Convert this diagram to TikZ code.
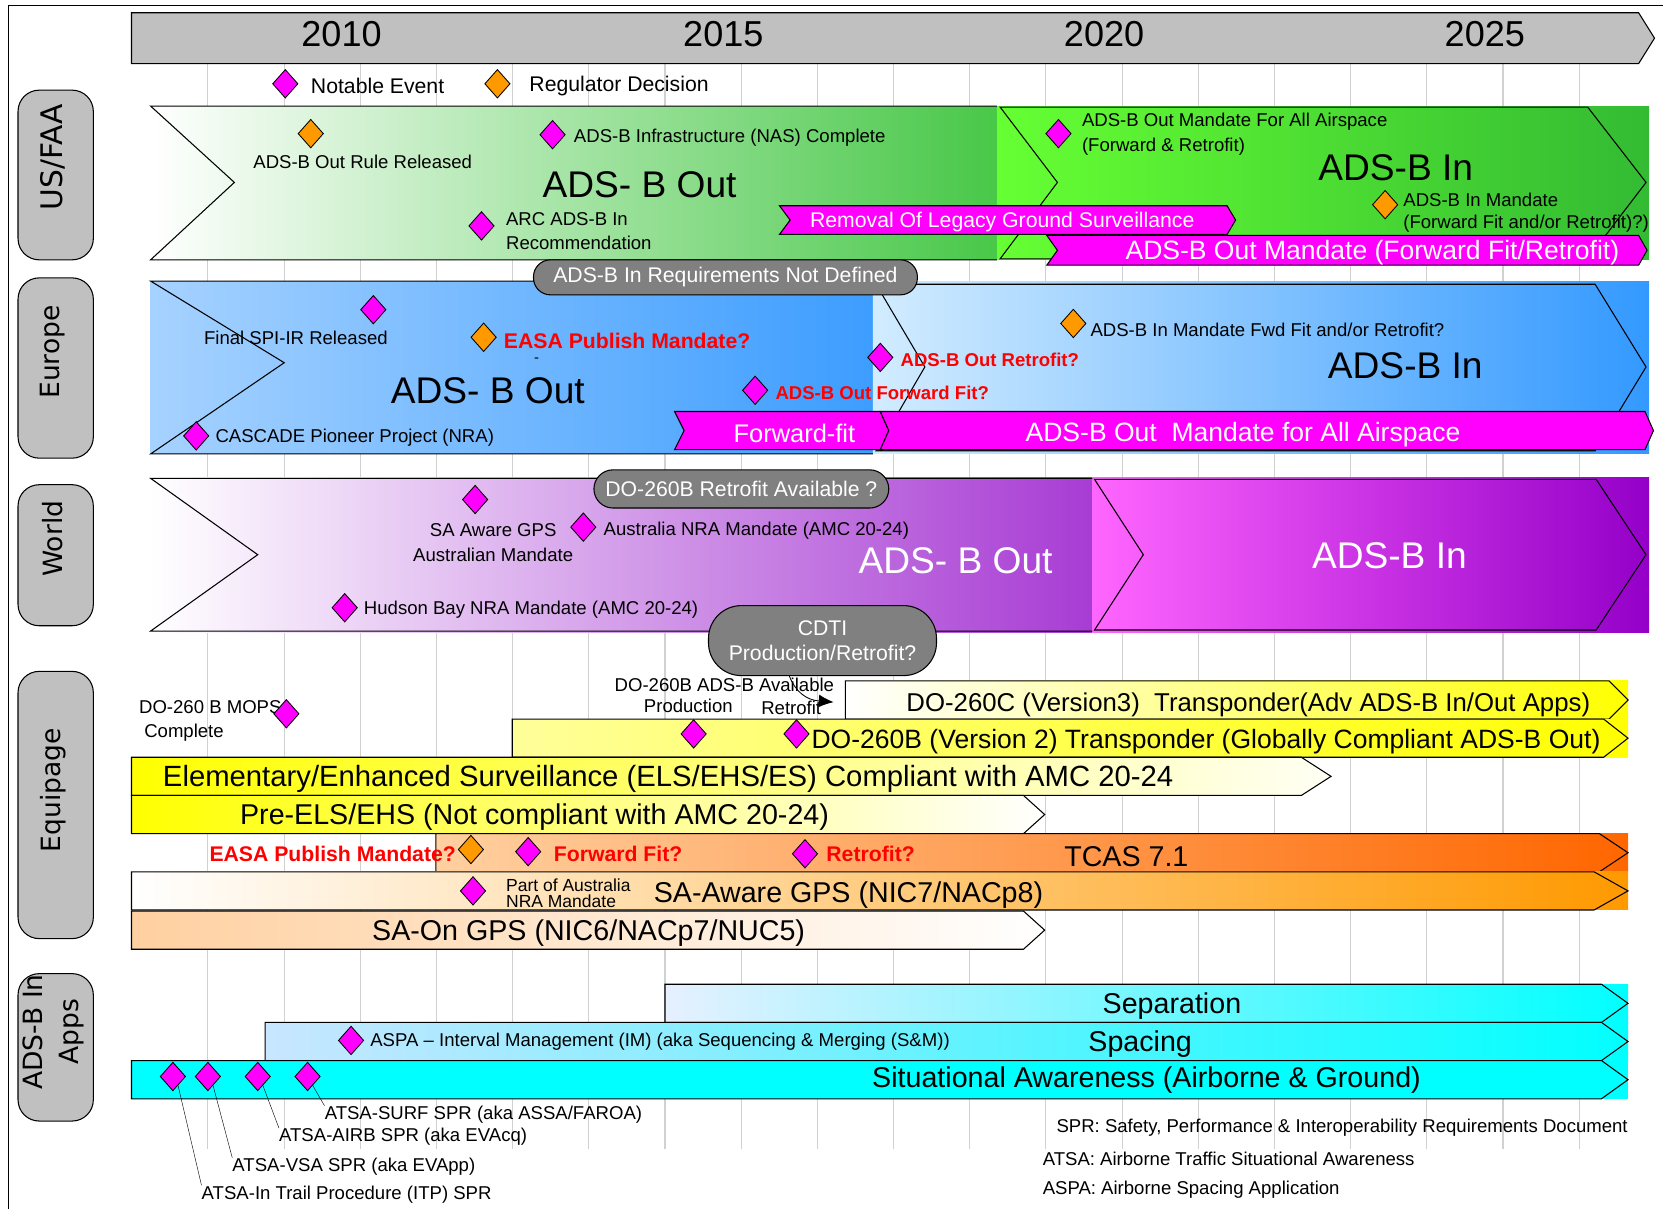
\documentclass[tikz,border=0pt]{standalone}
\usepackage{fontspec}
\setmainfont{Liberation Sans}
\newfontfamily\catfont{DejaVu Sans}
\usetikzlibrary{shapes.geometric, arrows.meta}
\definecolor{hdrgray}{HTML}{C0C0C0}
\definecolor{bubblegray}{HTML}{808080}
\definecolor{evmag}{HTML}{FF00FF}
\definecolor{regorange}{HTML}{FF9900}
\definecolor{usout}{HTML}{48C848}
\definecolor{usinL}{HTML}{66FF33}
\definecolor{usinR}{HTML}{33BB33}
\definecolor{euoutL}{HTML}{A6D2FF}
\definecolor{euoutR}{HTML}{3D9DFF}
\definecolor{euinL}{HTML}{D2ECFF}
\definecolor{euinR}{HTML}{3399FF}
\definecolor{woutR}{HTML}{A83CD4}
\definecolor{winL}{HTML}{FF66FF}
\definecolor{winR}{HTML}{9400C8}
\definecolor{ylw}{HTML}{FFFF00}
\definecolor{ylwpale}{HTML}{FFFF99}
\definecolor{tcasL}{HTML}{FFD0A0}
\definecolor{tcasR}{HTML}{FF6600}
\definecolor{gpsR}{HTML}{FF9900}
\definecolor{sepL}{HTML}{E6F0FF}
\definecolor{spcL}{HTML}{C8E6FF}
\definecolor{cyanapp}{HTML}{00FFFF}
\tikzset{style={line join=miter}}

\begin{document}
\begin{tikzpicture}[
    x=1pt, y=-1pt,
    rim/.style={draw=black, line width=1pt},
    gridline/.style={draw=black!18, line width=1pt},
    banner/.style={fill=evmag, draw=black, line width=1pt},
    catbox/.style={draw, fill=hdrgray, rounded corners=20pt, line width=1pt,
        minimum width=71pt, inner sep=0pt},
    catlbl/.style={rotate=90, font=\catfont\fontsize{25}{34}\selectfont,
        inner sep=0pt, align=center},
    note/.style={diamond, draw, fill=evmag, minimum width=24pt,
        minimum height=27pt, inner sep=0pt, line width=0.8pt},
    ruling/.style={note, fill=regorange},
    lbl/.style={font=\fontsize{17.5}{23}\selectfont, inner sep=0pt},
    keylbl/.style={font=\fontsize{20}{22}\selectfont, inner sep=0pt, anchor=west},
    hot/.style={font=\bfseries\fontsize{17.5}{19}\selectfont, text=red, inner sep=0pt},
    hotbig/.style={hot, font=\bfseries\fontsize{20}{22}\selectfont},
    phase/.style={font=\fontsize{35}{38}\selectfont, inner sep=0pt},
    yearlbl/.style={font=\fontsize{34}{36}\selectfont, inner sep=0pt},
    bartext/.style={font=\fontsize{27}{30}\selectfont, inner sep=0pt, yshift=-2.5pt},
    bubble/.style={draw, fill=bubblegray, text=white, line width=1pt,
        font=\fontsize{20}{24}\selectfont, align=center, inner sep=0pt},
  ]
\useasboundingbox (0,0) rectangle (1568,1140);
\fill[white] (0,0) rectangle (1568,1140);
\draw[line width=1pt] (8,1140) -- (8,5) -- (1568,5);

% grid of years
\foreach \k in {0,...,18}
  \draw[gridline] ({196+71.83*\k},60) -- ({196+71.83*\k},1083);

\filldraw[fill=hdrgray, draw=black, line width=1pt]
  (124,12) -- (1545,12) -- (1560,36) -- (1545,60) -- (124,60) -- cycle;
\foreach \yr/\px in {2010/322, 2015/682, 2020/1041, 2025/1400}
  \node[yearlbl] (y\yr) at (\px,32) {\yr};

\node[note] (keyev) at (269,79) {};
\node[keylbl] (keyevt) at (293,81) {Notable Event};
\node[ruling] (keyreg) at (469,79) {};
\node[keylbl] (keyregt) at (499,81) {Regulator Decision};

\node[catbox, minimum height=160pt] (cus) at (52.5,165) {};
\node[catlbl, font=\catfont\fontsize{28}{30}\selectfont] (cust) at (50,148) {US/FAA};
\node[catbox, minimum height=170pt] (ceu) at (52.5,347) {};
\node[catlbl] (ceut) at (50,332) {Europe};
\node[catbox, minimum height=133pt] (cwd) at (52.5,523.5) {};
\node[catlbl] (cwdt) at (50,508) {World};
\node[catbox, minimum height=252pt] (ceq) at (52.5,759) {};
\node[catlbl] (ceqt) at (50,745) {Equipage};
\node[catbox, minimum height=139pt] (cap) at (52.5,987.5) {};
\node[catlbl] (capt) at (50,973) {ADS-B In\\Apps};

% US/FAA
\shade[left color=white, right color=usout] (142,100) rectangle (940,245);
\shade[left color=usinL, right color=usinR] (940,100) rectangle (1555,245);
\draw[rim] (940,100) -- (142,100) -- (221,172) -- (142,245) -- (940,245);
\draw[rim] (943,101) -- (1497,101) -- (1552,172) -- (1497,244) -- (943,244) -- (997,172) -- cycle;
\filldraw[banner] (735,194) -- (1157,194) -- (1165,207.5) -- (1157,221) -- (735,221) -- (745,207.5) -- cycle;
\filldraw[banner] (987,222) -- (1545,222) -- (1553,236) -- (1545,250) -- (987,250) -- (997,236) -- cycle;

\node[ruling] (usrule) at (293,126) {};
\node[lbl] (usrulet) at (342,153) {ADS-B Out Rule Released};
\node[note] (usnas) at (521,127) {};
\node[lbl, anchor=west] (usnast) at (541,130) {ADS-B Infrastructure (NAS) Complete};
\node[phase] (usout) at (603,174) {ADS- B Out};
\node[note] (usarc) at (454,213) {};
\node[lbl, anchor=west, align=left] (usarct) at (477,218) {ARC ADS-B In\\Recommendation};
\node[note] (usall) at (998,126) {};
\node[lbl, anchor=west, align=left] (usallt) at (1020,126.5) {ADS-B Out Mandate For All Airspace\\(Forward \& Retrofit)};
\node[phase] (usin) at (1316,158) {ADS-B In};
\node[ruling] (usinm) at (1306,193) {};
\node[lbl, anchor=west, align=left, font=\fontsize{17.5}{21}\selectfont] (usinmt) at (1323,200.5) {ADS-B In Mandate\\(Forward Fit and/or Retrofit)?)};
\node[font=\fontsize{20}{22}\selectfont, text=white, inner sep=0pt] (uslegacy) at (945,209) {Removal Of Legacy Ground Surveillance};
\node[font=\fontsize{25}{27}\selectfont, text=white, inner sep=0pt] (usmand) at (1294,238.5) {ADS-B Out Mandate (Forward Fit/Retrofit)};

% Europe
\shade[left color=euoutL, right color=euoutR] (142,265) rectangle (823,428);
\shade[left color=euinL, right color=euinR] (823,265) rectangle (1555,428);
\draw[rim] (823,265) -- (142,265) -- (268,342) -- (142,428) -- (823,428);
\draw[rim] (826,268) -- (1504,268) -- (1552,346) -- (1504,425) -- (826,425) -- (872,346) -- cycle;
\filldraw[banner] (636,388) -- (830,388) -- (838,406) -- (830,424) -- (636,424) -- (645,406) -- cycle;
\filldraw[banner] (830,388) -- (1551,388) -- (1559,406) -- (1551,424) -- (830,424) -- (838,406) -- cycle;

\node[note] (euspi) at (352,292) {};
\node[lbl] (euspit) at (279,319) {Final SPI-IR Released};
\node[ruling] (eueasa) at (456,318) {};
\node[hotbig, anchor=west] (eueasat) at (475,321) {EASA Publish Mandate?};
\node[lbl, font=\fontsize{14}{15}\selectfont] (eudash) at (506,340) {-};
\node[phase] (euout) at (460,368) {ADS- B Out};
\node[note] (eucas) at (185,411) {};
\node[lbl, anchor=west] (eucast) at (203,413) {CASCADE Pioneer Project (NRA)};
\node[note] (eufwd) at (712,368) {};
\node[hot, anchor=west] (eufwdt) at (731,370) {ADS-B Out Forward Fit?};
\node[note] (euret) at (830,337) {};
\node[hot, anchor=west] (euprett) at (849,339) {ADS-B Out Retrofit?};
\node[ruling] (euinm) at (1012,305) {};
\node[lbl, anchor=west] (euinmt) at (1028,311) {ADS-B In Mandate Fwd Fit and/or Retrofit?};
\node[phase] (euin) at (1325,345) {ADS-B In};
\node[font=\fontsize{24}{26}\selectfont, text=white, inner sep=0pt] (euff) at (749,408.5) {Forward-fit};
\node[font=\fontsize{25}{27}\selectfont, text=white, inner sep=0pt] (eumand) at (1172,409.5) {ADS-B Out\ \ Mandate for All Airspace};

% World
\shade[left color=white, right color=woutR] (142,450) rectangle (1030,596);
\shade[left color=winL, right color=winR] (1030,450) rectangle (1555,596);
\draw[rim] (1030,451) -- (142,451) -- (243,523) -- (142,595) -- (1030,595);
\draw[rim] (1032,452) -- (1505,452) -- (1552,523) -- (1505,594) -- (1032,594) -- (1078,523) -- cycle;

\node[note] (wdsa) at (448,471) {};
\node[lbl, align=center] (wdsat) at (465,511.5) {SA Aware GPS\\Australian Mandate};
\node[note] (wdaus) at (550,497) {};
\node[lbl, anchor=west] (wdaust) at (569,500) {Australia NRA Mandate (AMC 20-24)};
\node[phase, text=white] (wdout) at (901,529) {ADS- B Out};
\node[phase, text=white] (wdin) at (1310,524) {ADS-B In};
\node[note] (wdhud) at (325,573) {};
\node[lbl, anchor=west] (wdhudt) at (343,575) {Hudson Bay NRA Mandate (AMC 20-24)};

% Equipage
\shade[left color=white, right color=ylw] (797,642) rectangle (1535,678);
\draw[rim] (797,642) -- (1517,642) -- (1535,660) -- (1517,678) -- (797,678) -- cycle;
\shade[left color=ylwpale, right color=ylw] (483,678) rectangle (1535,714);
\draw[rim] (483,678) -- (1512,678) -- (1535,696) -- (1512,714) -- (483,714) -- cycle;
\shade[left color=ylw, right color=ylw!4] (124,714) -- (1227,714) -- (1255,732) -- (1227,750) -- (124,750) -- cycle;
\draw[rim] (124,714) -- (1227,714) -- (1255,732) -- (1227,750) -- (124,750) -- cycle;
\shade[left color=ylw, right color=white] (124,750) -- (965,750) -- (985,768) -- (965,786) -- (124,786) -- cycle;
\draw[rim] (124,750) -- (965,750) -- (985,768) -- (965,786) -- (124,786) -- cycle;
\shade[left color=tcasL, right color=tcasR] (411,786) rectangle (1535,822);
\draw[rim] (411,786) -- (1508,786) -- (1535,804) -- (1508,822) -- (411,822) -- cycle;
\shade[left color=white, right color=gpsR] (124,822) rectangle (1535,858);
\draw[rim] (124,822) -- (1503,822) -- (1535,840) -- (1503,858) -- (124,858) -- cycle;
\shade[left color=tcasL, right color=white] (124,859) -- (965,859) -- (985,877) -- (965,895) -- (124,895) -- cycle;
\draw[rim] (124,859) -- (965,859) -- (985,877) -- (965,895) -- (124,895) -- cycle;

\node[lbl, anchor=west, align=left] (eqmops) at (131,679.5) {DO-260 B MOPS\\\ Complete};
\node[note] (eqmopsd) at (270,673) {};
\node[lbl] (eqavail) at (683,646) {DO-260B ADS-B Available};
\node[lbl] (eqprod) at (649,666) {Production};
\node[lbl] (eqretro) at (746,667) {Retrofit};
\node[note] (eqprodd) at (654,692) {};
\node[note] (eqretd) at (751,692) {};
\node[bartext, font=\fontsize{24.3}{27}\selectfont] (eq260c) at (1177,662) {DO-260C (Version3)\ \ Transponder(Adv ADS-B In/Out Apps)};
\node[bartext, anchor=west, font=\fontsize{25}{27}\selectfont] (eq260b) at (765,697) {DO-260B (Version 2) Transponder (Globally Compliant ADS-B Out)};
\node[bartext, font=\fontsize{27.6}{30}\selectfont] (eqels) at (630,732) {Elementary/Enhanced Surveillance (ELS/EHS/ES) Compliant with AMC 20-24};
\node[bartext] (eqpre) at (504,768) {Pre-ELS/EHS (Not compliant with AMC 20-24)};
\node[hotbig, anchor=east] (eqeasat) at (430,805) {EASA Publish Mandate?};
\node[ruling] (eqeasa) at (444,801) {};
\node[note] (eqfwd) at (498,803) {};
\node[hotbig, anchor=west] (eqfwdt) at (522,805) {Forward Fit?};
\node[note] (eqret) at (759,805) {};
\node[hotbig, anchor=west] (eqrett) at (779,805) {Retrofit?};
\node[bartext] (eqtcas) at (1062,805) {TCAS 7.1};
\node[note] (eqaus) at (446,840) {};
\node[font=\fontsize{16.5}{15}\selectfont, inner sep=0pt, anchor=west, align=left] (eqaust) at (477,842) {Part of Australia\\NRA Mandate};
\node[bartext] (eqsaw) at (800,841) {SA-Aware GPS (NIC7/NACp8)};
\node[bartext] (eqson) at (555,877) {SA-On GPS (NIC6/NACp7/NUC5)};

% ADS-B In apps
\shade[left color=sepL, right color=cyanapp] (627,928) rectangle (1535,964);
\draw[rim] (627,928) -- (1510,928) -- (1535,946) -- (1510,964) -- (627,964) -- cycle;
\shade[left color=spcL, right color=cyanapp] (250,964) rectangle (1535,1000);
\draw[rim] (250,964) -- (1510,964) -- (1535,982) -- (1510,1000) -- (250,1000) -- cycle;
\fill[cyanapp] (124,1000) rectangle (1535,1036);
\draw[rim] (124,1000) -- (1510,1000) -- (1535,1018) -- (1510,1036) -- (124,1036) -- cycle;

\node[bartext] (apsep) at (1105,946) {Separation};
\node[note] (apim) at (331,981) {};
\node[lbl, anchor=west] (apimt) at (349,982) {ASPA -- Interval Management (IM) (aka Sequencing \& Merging (S\&M))};
\node[bartext] (apspc) at (1075,982) {Spacing};
\node[bartext] (apsa) at (1081,1016) {Situational Awareness (Airborne \& Ground)};
\node[note] (apitp) at (163,1015) {};
\node[note] (apvsa) at (196,1015) {};
\node[note] (apairb) at (243,1015) {};
\node[note] (apsurf) at (290,1015) {};
\node[lbl, anchor=west] (apsurft) at (306,1051) {ATSA-SURF SPR (aka ASSA/FAROA)};
\node[lbl, anchor=west] (apairbt) at (263,1072) {ATSA-AIRB SPR (aka EVAcq)};
\node[lbl, anchor=west] (apvsat) at (219,1100) {ATSA-VSA SPR (aka EVApp)};
\node[lbl, anchor=west] (apitpt) at (190,1126) {ATSA-In Trail Procedure (ITP) SPR};
\draw (apsurf.300) -- (apsurft.north west);
\draw (apairb.300) -- (apairbt.north west);
\draw (apvsa.300) -- (apvsat.north west);
\draw (apitp.300) -- (apitpt.north west);

\node[lbl, anchor=west] (kspr) at (996,1063) {SPR: Safety, Performance \& Interoperability Requirements Document};
\node[lbl, anchor=west] (katsa) at (983,1093) {ATSA: Airborne Traffic Situational Awareness};
\node[lbl, anchor=west] (kaspa) at (983,1122) {ASPA: Airborne Spacing Application};

% grey call-outs
\node[bubble, minimum width=362pt, minimum height=33pt, rounded corners=16pt] (bubreq) at (684,261.5) {ADS-B In Requirements Not Defined};
\node[bubble, minimum width=278pt, minimum height=36pt, rounded corners=18pt] (bubdo) at (699,461) {DO-260B Retrofit Available ?};
\node[bubble, minimum width=215pt, minimum height=66pt, rounded corners=31pt] (cdti) at (775.5,604) {CDTI\\Production/Retrofit?};
\coordinate (cdtitip) at (786,662);
\draw[-{Latex[length=14pt,width=12pt]}, line width=0.8pt] (cdti.227) .. controls (750,652) and (760,660) .. (cdtitip);
\end{tikzpicture}
\end{document}
